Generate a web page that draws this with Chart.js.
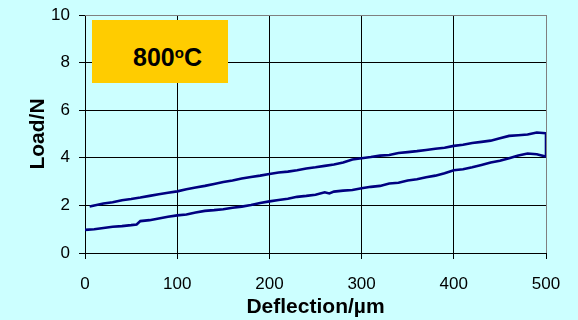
<!DOCTYPE html>
<html>
<head>
<meta charset="utf-8">
<script src="https://cdn.jsdelivr.net/npm/chart.js@4"></script>
<style>
  html, body { margin: 0; padding: 0; background: #CCFFFF; }
  #wrap { position: relative; width: 578px; height: 320px; }
  #tag {
    position: absolute; left: 92px; top: 20px; width: 136px; height: 63px;
    background: #FFCC00; font: bold 25px "Liberation Sans", Arial, sans-serif;
    color: #000; box-sizing: border-box; padding-left: 41px; line-height: 63px;
  }
  #tag span { position: relative; top: 6px; }
  #tag sup { font-size: 15px; vertical-align: 0; position: relative; top: -8px; }
</style>
</head>
<body>
<div id="wrap">
  <canvas id="c" width="578" height="320"></canvas>
  <div id="tag"><span>800<sup>o</sup>C</span></div>
</div>
<script>
// lower branch (loading), deflection in µm and load in N
const lowerX = [0, 10, 20, 30, 40, 50, 56, 60, 70, 80, 90, 100, 110, 120, 130, 140, 150, 160, 170, 180, 190, 200,
  210, 220, 230, 240, 250, 260, 265, 270, 280, 290, 300, 310, 320, 330, 340, 350, 360, 370, 380, 390, 400,
  410, 420, 430, 440, 450, 460, 470, 480, 490, 500];
const lowerY = [0.97, 1.0, 1.05, 1.1, 1.13, 1.17, 1.2, 1.34, 1.38, 1.45, 1.52, 1.58, 1.62, 1.7, 1.77, 1.8, 1.84, 1.9, 1.95, 2.02, 2.1, 2.17,
  2.23, 2.28, 2.36, 2.4, 2.45, 2.55, 2.5, 2.58, 2.62, 2.65, 2.72, 2.78, 2.82, 2.92, 2.95, 3.05, 3.1, 3.18, 3.25, 3.35, 3.48,
  3.52, 3.6, 3.7, 3.8, 3.88, 3.98, 4.1, 4.18, 4.15, 4.05];
// upper branch (return), from 500 back toward 0
const upperX = [500, 490, 480, 470, 460, 450, 440, 430, 420, 410, 400, 390, 380, 370, 360, 350, 340, 330, 320, 310, 300,
  290, 280, 270, 260, 250, 240, 230, 220, 210, 200, 190, 180, 170, 160, 150, 140, 130, 120, 110, 100,
  90, 80, 70, 60, 50, 40, 30, 20, 10, 5];
const upperY = [5.03, 5.06, 4.98, 4.95, 4.92, 4.82, 4.72, 4.67, 4.62, 4.55, 4.5, 4.42, 4.38, 4.33, 4.28, 4.24, 4.2, 4.12, 4.09, 4.03, 3.98,
  3.93, 3.8, 3.72, 3.66, 3.6, 3.55, 3.48, 3.42, 3.38, 3.32, 3.25, 3.19, 3.13, 3.05, 2.98, 2.9, 2.82, 2.75, 2.68, 2.59,
  2.53, 2.47, 2.4, 2.33, 2.27, 2.22, 2.13, 2.08, 2.0, 1.95];
const xTicks = [0, 100, 200, 300, 400, 500];
const yTicks = [0, 2, 4, 6, 8, 10];

const pts = lowerX.map((x, i) => ({ x: x, y: lowerY[i] }))
  .concat(upperX.map((x, i) => ({ x: x, y: upperY[i] })));

const FONT = '"Liberation Sans", Arial, sans-serif';

new Chart(document.getElementById('c'), {
  type: 'scatter',
  data: { datasets: [{ data: pts, showLine: true, borderColor: '#000080', borderWidth: 2.6, pointRadius: 0, tension: 0 }] },
  options: {
    responsive: false, animation: false,
    layout: { padding: { top: 15, right: 32, left: 0, bottom: 0 } },
    plugins: { legend: { display: false }, tooltip: { enabled: false } },
    scales: {
      x: {
        type: 'linear', min: 0, max: 500,
        afterBuildTicks: s => { s.ticks = xTicks.map(v => ({ value: v })); },
        afterFit: s => { s.height = 67; s.paddingLeft = 0; s.paddingRight = 0; },
        grid: { color: c => c.tick && c.tick.value === 500 ? '#808080' : '#000', tickColor: '#000', tickLength: 6 },
        border: { color: '#000' },
        ticks: { color: '#000', font: { family: FONT, size: 17 }, padding: 15, maxRotation: 0 },
        title: { display: true, text: 'Deflection/µm', color: '#000', font: { family: FONT, size: 21, weight: 'bold' }, padding: { top: 2, bottom: 0 } }
      },
      y: {
        min: 0, max: 10,
        afterBuildTicks: s => { s.ticks = yTicks.map(v => ({ value: v })); },
        afterFit: s => { s.width = 85; s.paddingTop = 0; s.paddingBottom = 0; },
        grid: { color: c => c.tick && c.tick.value === 10 ? '#808080' : '#000', tickColor: '#000', tickLength: 6 },
        border: { color: '#000' },
        ticks: { color: '#000', font: { family: FONT, size: 17 }, padding: 9 },
        title: { display: true, text: 'Load/N', color: '#000', font: { family: FONT, size: 21, weight: 'bold' }, padding: { top: 26, bottom: 0 } }
      }
    }
  },
  plugins: [{
    id: 'frame',
    afterDraw(chart) {
      const a = chart.chartArea, ctx = chart.ctx;
      ctx.save();
      ctx.strokeStyle = '#808080'; ctx.lineWidth = 1;
      ctx.beginPath();
      ctx.moveTo(a.left, a.top + 0.5); ctx.lineTo(a.right + 0.5, a.top + 0.5); ctx.lineTo(a.right + 0.5, a.bottom);
      ctx.stroke();
      ctx.restore();
    }
  }]
});
</script>
</body>
</html>
